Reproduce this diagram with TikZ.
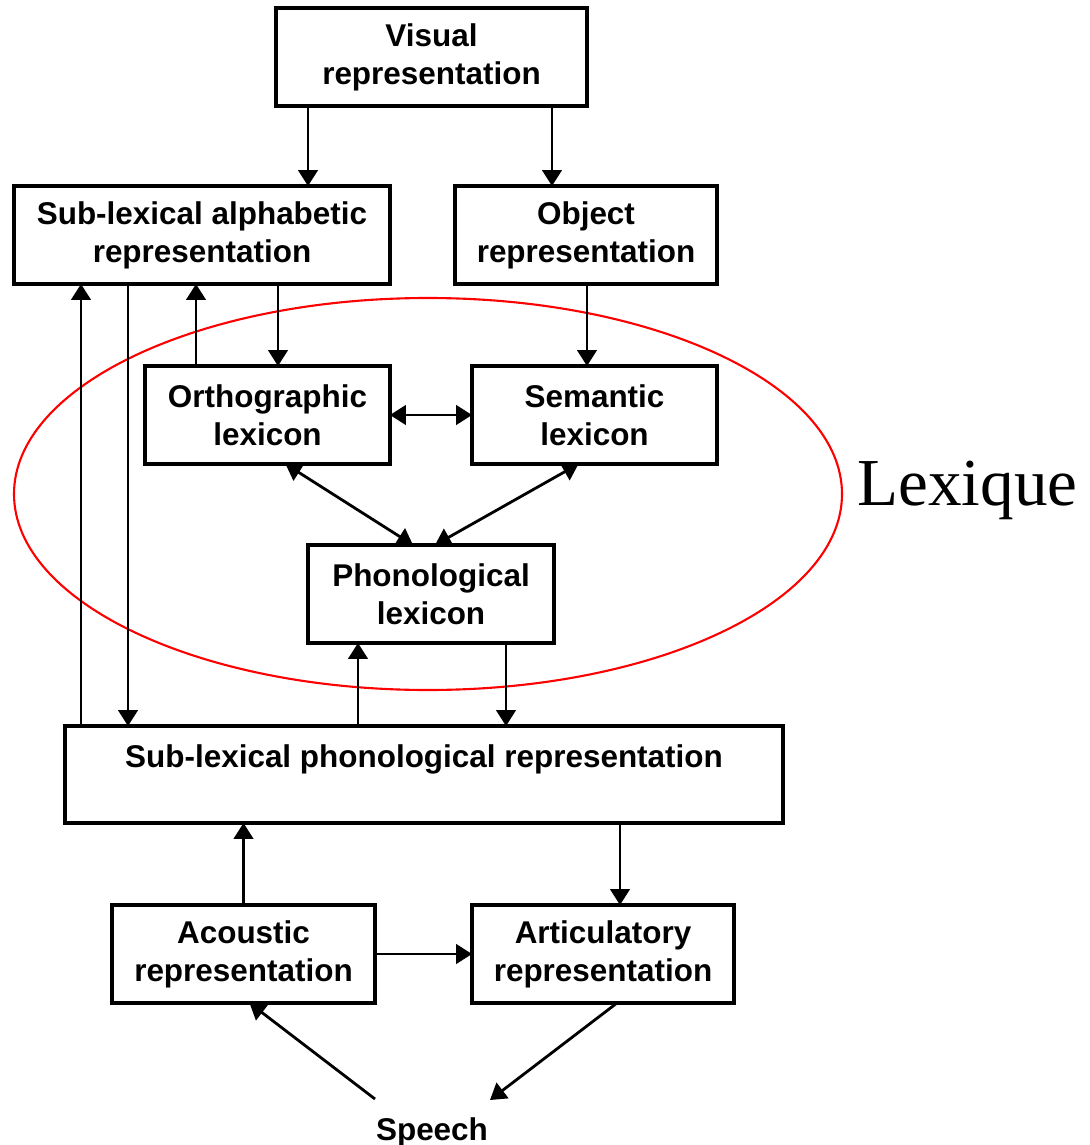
\documentclass[tikz,border=0pt]{standalone}
\usepackage{fontspec}
\setmainfont{Liberation Sans}
\newfontfamily\lexfont{Liberation Serif}
\usetikzlibrary{calc}
\usetikzlibrary{arrows.meta}

\tikzset{
 box/.style={draw, line width=2pt, inner sep=0pt, outer sep=0pt, align=center,
   minimum height=1.96cm, font=\bfseries\fontsize{17.9}{21.5}\selectfont},
 arr/.style={line width=1.6pt, -{Triangle[length=9pt,width=11pt]}},
 darr/.style={line width=1.6pt, {Triangle[length=9pt,width=11pt]}-{Triangle[length=9pt,width=11pt]}},
}

\begin{document}
\begin{tikzpicture} [x=.02cm, y=-.02cm]
\useasboundingbox (0,0) rectangle (1089,1145);
% boxes
\node[box, minimum width=6.22cm] (vis) at (431.5,57) {Visual\\representation};
\node[box, minimum width=7.52cm] (alpha) at (202,235) {Sub-lexical alphabetic\\representation};
\node[box, minimum width=5.24cm] (obj) at (586,235) {Object\\representation};
\node[box, minimum width=4.90cm] (orth) at (267.5,415) {Orthographic\\lexicon};
\node[box, minimum width=4.90cm] (sem) at (594.5,415) {Semantic\\lexicon};
\node[box, minimum width=4.92cm] (phon) at (431,594) {Phonological\\lexicon};
\node[box, minimum width=14.36cm, minimum height=1.94cm] (sphon) at (424,774.5) {Sub-lexical phonological representation\\\mbox{}};
\node[box, minimum width=5.26cm] (acou) at (243.5,954) {Acoustic\\representation};
\node[box, minimum width=5.24cm] (artic) at (603,954) {Articulatory\\representation};
\node[font=\bfseries\fontsize{17.9}{21.5}\selectfont, inner sep=0, anchor=base] (speech) at (432,1140) {Speech};
\coordinate (sp1) at (375,1099);
\coordinate (sp2) at (490,1100);
% lexicon
\draw[red, line width=1.2pt] (428,494) ellipse [x radius=414, y radius=196];
\node[font=\lexfont\fontsize{38.2}{42}\selectfont, inner sep=0, anchor=base] (lex) at (967.5,505) {Lexique};
% connectors
\draw[arr] (308,0 |- vis.south) -- (308,0 |- alpha.north);
\draw[arr] (552,0 |- vis.south) -- (552,0 |- obj.north);
\draw[arr] (81,0 |- sphon.north) -- (81,0 |- alpha.south);
\draw[arr] (128,0 |- alpha.south) -- (128,0 |- sphon.north);
\draw[arr] (196,0 |- orth.north) -- (196,0 |- alpha.south);
\draw[arr] (278,0 |- alpha.south) -- (278,0 |- orth.north);
\draw[arr] (587,0 |- obj.south) -- (587,0 |- sem.north);
\draw[darr] (orth) -- (sem);
\draw[darr] ($(orth.south)+(18,0)$) -- ($(phon.north)+(-18,0)$);
\draw[darr] ($(sem.south)+(-16,0)$) -- ($(phon.north)+(4,0)$);
\draw[arr] (358,0 |- sphon.north) -- (358,0 |- phon.south);
\draw[arr] (506,0 |- phon.south) -- (506,0 |- sphon.north);
\draw[arr] (acou) -- (acou |- sphon.south);
\draw[arr] (620,0 |- sphon.south) -- (620,0 |- artic.north);
\draw[arr] (acou) -- (artic);
\draw[arr] (sp1) -- ($(acou.south)+(6,0)$);
\draw[arr] ($(artic.south)+(14,0)$) -- (sp2);
\end{tikzpicture}
\end{document}
